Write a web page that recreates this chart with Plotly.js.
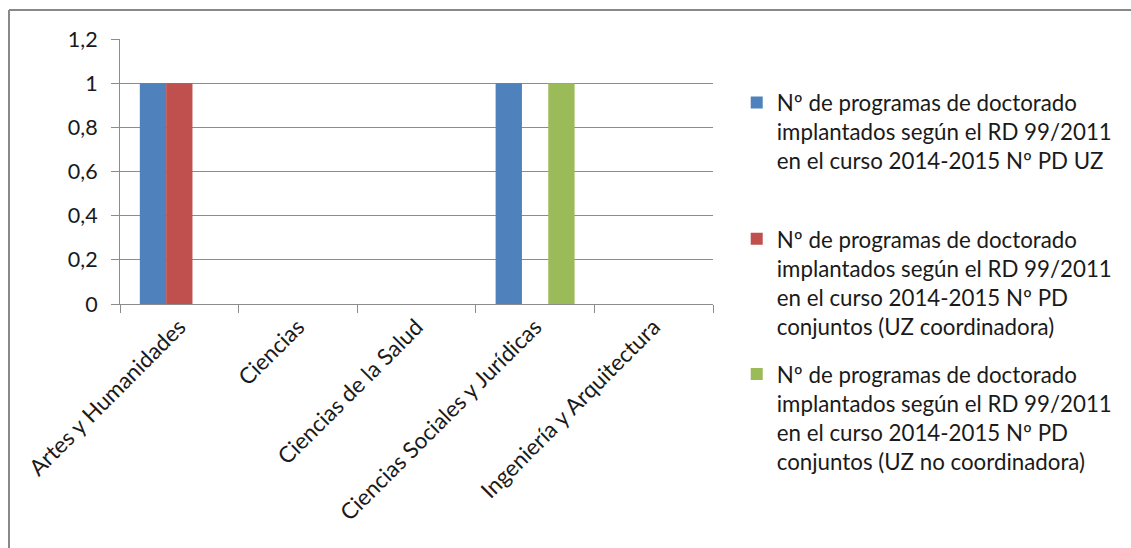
<!DOCTYPE html>
<html>
<head>
<meta charset="utf-8">
<script src="https://cdn.plot.ly/plotly-3.0.1.min.js"></script>
<style>
html,body{margin:0;padding:0;background:#fff;}
#chart{width:1131px;height:548px;}
</style>
</head>
<body>
<div id="chart"></div>
<script>
const categories = ["Artes y Humanidades", "Ciencias", "Ciencias de la Salud", "Ciencias Sociales y Jurídicas", "Ingeniería y Arquitectura"];
const seriesNames = [
  "Nº de programas de doctorado<br>implantados según el RD 99/2011<br>en el curso 2014-2015 Nº PD UZ",
  "Nº de programas de doctorado<br>implantados según el RD 99/2011<br>en el curso 2014-2015 Nº PD<br>conjuntos (UZ coordinadora)",
  "Nº de programas de doctorado<br>implantados según el RD 99/2011<br>en el curso 2014-2015 Nº PD<br>conjuntos (UZ no coordinadora)"
];
const pdUZ = [1, 0, 0, 1, 0];
const pdConjCoord = [1, 0, 0, 0, 0];
const pdConjNoCoord = [0, 0, 0, 1, 0];
const yTicks = [0, 0.2, 0.4, 0.6, 0.8, 1, 1.2];

const colors = ["#4F81BD", "#C0504D", "#9BBB59"];
const FONT = "Lato, 'Open Sans', sans-serif";

const traces = [pdUZ, pdConjCoord, pdConjNoCoord].map((vals, i) => ({
  type: "bar",
  x: categories,
  y: vals,
  name: seriesNames[i],
  marker: {color: colors[i]},
  legend: i === 0 ? "legend" : "legend" + (i + 1),
  hoverinfo: "y"
}));

const legendBase = {
  xanchor: "left", yanchor: "top", valign: "top",
  font: {family: FONT, size: 22.3, color: "#1a1a1a"},
  bgcolor: "rgba(0,0,0,0)", borderwidth: 0
};

const layout = {
  width: 1131, height: 548,
  margin: {l: 120, r: 418, t: 39, b: 244},
  paper_bgcolor: "#fff", plot_bgcolor: "#fff",
  separators: ", ",
  barmode: "group",
  bargap: 0.334,
  bargroupgap: 0,
  font: {family: FONT, size: 21, color: "#1a1a1a"},
  xaxis: {
    type: "category",
    tickson: "boundaries",
    ticks: "outside", ticklen: 8, tickcolor: "#8c8c8c", tickwidth: 1,
    showline: true, linecolor: "#8c8c8c", linewidth: 1,
    showgrid: false,
    tickangle: -45,
    tickfont: {family: FONT, size: 22.5, color: "#1a1a1a"}
  },
  yaxis: {
    range: [0, 1.2],
    tickvals: yTicks,
    ticks: "outside", ticklen: 8, tickcolor: "#8c8c8c", tickwidth: 1,
    ticklabelstandoff: 9,
    showline: true, linecolor: "#8c8c8c", linewidth: 1,
    showgrid: true, gridcolor: "#8c8c8c", gridwidth: 1,
    zeroline: false,
    tickfont: {family: FONT, size: 21.5, color: "#1a1a1a"}
  },
  showlegend: true,
  legend: Object.assign({}, legendBase, {x: 1.04, y: 0.84}),
  legend2: Object.assign({}, legendBase, {x: 1.04, y: 0.325}),
  legend3: Object.assign({}, legendBase, {x: 1.04, y: -0.185}),
  shapes: [
    {type: "line", xref: "paper", yref: "paper", x0: -0.1872, x1: 1.75, y0: 1.1094, y1: 1.1094, line: {color: "#888888", width: 2}},
    {type: "line", xref: "paper", yref: "paper", x0: -0.1872, x1: -0.1872, y0: 1.1094, y1: -0.93, line: {color: "#888888", width: 2}}
  ]
};

Plotly.newPlot("chart", traces, layout, {displayModeBar: false, staticPlot: true});
</script>
</body>
</html>
